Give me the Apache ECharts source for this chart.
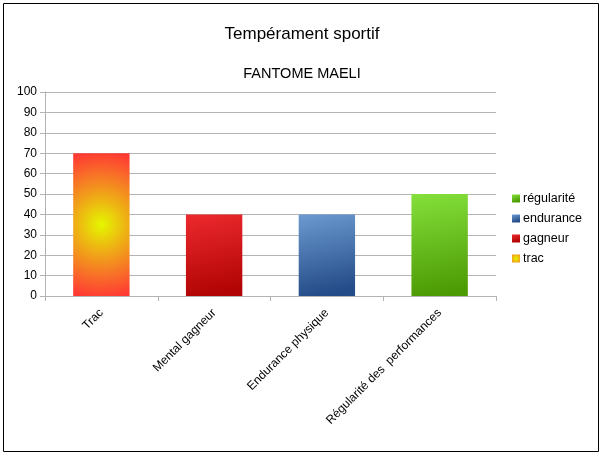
<!DOCTYPE html>
<html><head><meta charset="utf-8">
<script src="https://cdn.jsdelivr.net/npm/echarts@6/dist/echarts.min.js"></script>
<style>html,body{margin:0;padding:0;background:#fff}#c{width:604px;height:455px}</style>
</head><body><div id="c"></div>
<script>
var categories = ['Trac', 'Mental gagneur', 'Endurance physique', 'Régularité des  performances'];
var seriesNames = ['trac', 'gagneur', 'endurance', 'régularité'];
var values = [70, 40, 40, 50];
var yTicks = [0, 10, 20, 30, 40, 50, 60, 70, 80, 90, 100];

var fills = [
  {type:'radial', x:0.5, y:0.5, r:1.3, colorStops:[{offset:0,color:'#e4f700'},{offset:0.35,color:'#eeb014'},{offset:0.7,color:'#f87028'},{offset:1,color:'#ff3a33'}]},
  {type:'linear', x:0, y:0, x2:0.3, y2:1, colorStops:[{offset:0,color:'#ec2a2e'},{offset:1,color:'#b20404'}]},
  {type:'linear', x:0, y:0, x2:0.3, y2:1, colorStops:[{offset:0,color:'#6c9ad0'},{offset:1,color:'#244c88'}]},
  {type:'linear', x:0, y:0, x2:0.3, y2:1, colorStops:[{offset:0,color:'#84e03a'},{offset:1,color:'#4c9a04'}]}
];

var series = seriesNames.map(function(n, i){
  var d = categories.map(function(c, j){ return j === i ? values[i] : '-'; });
  return {name:n, type:'bar', stack:'all', data:d, barWidth:'50%', itemStyle:{color:fills[i]}};
});

var chart = echarts.init(document.getElementById('c'));
chart.setOption({
  animation:false,
  textStyle:{fontFamily:'Liberation Sans'},
  title:[
    {text:'Tempérament sportif', left:'center', top:21, textStyle:{fontSize:17, fontWeight:'normal', color:'#000', fontFamily:'Liberation Sans'}},
    {text:'FANTOME MAELI', left:'center', top:61, textStyle:{fontSize:14.5, fontWeight:'normal', color:'#000', fontFamily:'Liberation Sans'}}
  ],
  graphic:[{type:'rect', shape:{x:3.5, y:3.5, width:595, height:448}, style:{fill:'none', stroke:'#000', lineWidth:1}, silent:true}],
  legend:{orient:'vertical', left:507, top:187, itemWidth:8, itemHeight:8, itemGap:7, icon:'rect',
    data:seriesNames.slice().reverse(), textStyle:{fontSize:12.5, color:'#000', padding:[0,0,0,-2]}},
  grid:{left:45, top:92, width:451, height:204, containLabel:false},
  xAxis:{type:'category', data:categories, axisTick:{show:true, alignWithLabel:false, length:5, lineStyle:{color:'#b3b3b3'}},
    axisLine:{lineStyle:{color:'#b3b3b3'}},
    axisLabel:{rotate:45, fontSize:12, color:'#000', margin:15, interval:0}},
  yAxis:{type:'value', min:0, max:100, interval:10,
    axisLine:{show:true, lineStyle:{color:'#b3b3b3'}}, axisTick:{show:true, length:5, lineStyle:{color:'#b3b3b3'}},
    splitLine:{lineStyle:{color:'#b3b3b3'}},
    axisLabel:{fontSize:12, color:'#000', margin:8, formatter:function(v){return yTicks.indexOf(v)>=0?String(v):'';}}},
  series:series
});
</script></body></html>
